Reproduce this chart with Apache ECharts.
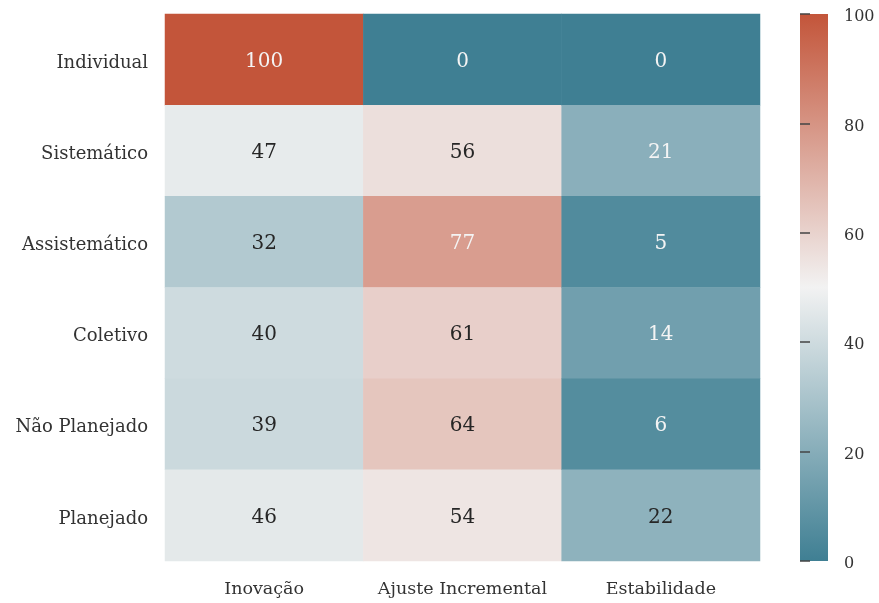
<!DOCTYPE html>
<html><head><meta charset="utf-8">
<script src="https://cdn.jsdelivr.net/npm/echarts@6/dist/echarts.min.js"></script>
<style>html,body{margin:0;padding:0;background:#fff}#c{width:879px;height:603px}</style>
</head><body><div id="c"></div>
<script>
const columns = ['Inovação', 'Ajuste Incremental', 'Estabilidade'];
const rows = ['Individual', 'Sistemático', 'Assistemático', 'Coletivo', 'Não Planejado', 'Planejado'];
const inovacao = [100, 47, 32, 40, 39, 46];
const ajuste = [0, 56, 77, 61, 64, 54];
const estabilidade = [0, 21, 5, 14, 6, 22];
const colorbarTicks = [0, 20, 40, 60, 80, 100];

const palette = ['#3f7f93', '#f2f2f2', '#c3553a'];
const cols = [inovacao, ajuste, estabilidade];
const data = [];
cols.forEach((arr, ci) => arr.forEach((v, ri) => data.push([ci, ri, v])));

const FONT = 'DejaVu Serif';
const chart = echarts.init(document.getElementById('c'));
chart.setOption({
  animation: false,
  textStyle: {fontFamily: FONT},
  grid: [
    {left: 165, top: 14, width: 595, height: 547},
    {left: 800, top: 14, width: 28, height: 547, show: true, borderWidth: 0,
     backgroundColor: new echarts.graphic.LinearGradient(0, 1, 0, 0, [
       {offset: 0, color: palette[0]}, {offset: 0.5, color: palette[1]}, {offset: 1, color: palette[2]}])}
  ],
  xAxis: [
    {type: 'category', data: columns, gridIndex: 0, axisLine: {show: false}, axisTick: {show: false},
     axisLabel: {fontFamily: FONT, fontSize: 17.5, color: '#333', margin: 19, interval: 0, hideOverlap: false}, splitLine: {show: false}},
    {type: 'value', gridIndex: 1, show: false, min: 0, max: 1}
  ],
  yAxis: [
    {type: 'category', data: rows, inverse: true, gridIndex: 0, axisLine: {show: false}, axisTick: {show: false},
     axisLabel: {fontFamily: FONT, fontSize: 18, color: '#333', margin: 17, interval: 0, verticalAlign: 'top', lineHeight: 7}, splitLine: {show: false}},
    {type: 'value', gridIndex: 1, position: 'right', min: colorbarTicks[0], max: colorbarTicks[colorbarTicks.length - 1],
     interval: 20, axisLine: {show: false}, axisTick: {show: true, length: 10, lineStyle: {color: '#444', width: 1.5}},
     axisLabel: {fontFamily: FONT, fontSize: 16, color: '#333', margin: 16, verticalAlign: 'top', lineHeight: 6}, splitLine: {show: false}}
  ],
  visualMap: {show: false, min: 0, max: 100, seriesIndex: 0, dimension: 2, inRange: {color: palette}},
  series: [{
    type: 'heatmap', xAxisIndex: 0, yAxisIndex: 0,
    data: data.map(d => ({value: d, label: {color: (d[2] <= 21 || d[2] >= 77) ? '#f4f4f4' : '#262626'}})),
    label: {show: true, fontFamily: FONT, fontSize: 20, offset: [0, 2], formatter: p => String(p.value[2])},
    itemStyle: {borderWidth: 0}
  }]
});
</script></body></html>
